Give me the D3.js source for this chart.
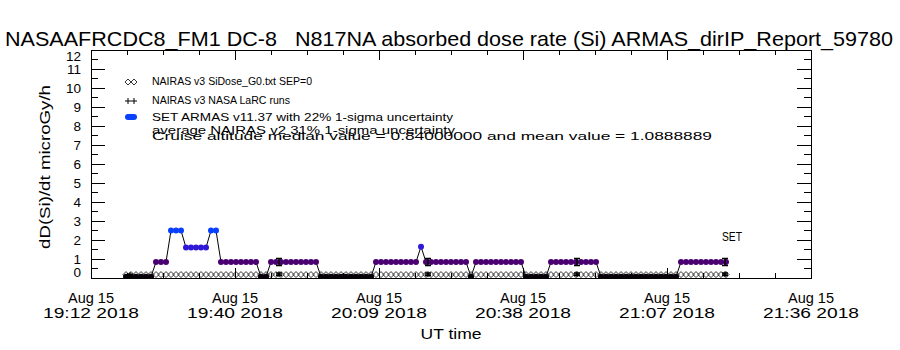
<!DOCTYPE html>
<html>
<head>
<meta charset="utf-8">
<script src="https://cdn.jsdelivr.net/npm/d3@7"></script>
<style>
  body { margin: 0; background: #fff; }
  svg text { font-family: "Liberation Sans", Arial, sans-serif; fill: #000; white-space: pre; }
</style>
</head>
<body>
<svg id="chart" width="900" height="350"></svg>
<script>
// ARMAS dose rate, one value per minute starting 19:19 UT
var armasStart = '2018-08-15T19:19:00Z';
var armasVals = [
  0.07, 0.07, 0.07, 0.07, 0.07, 0.07,
  0.84, 0.84, 0.84,
  2.5, 2.5, 2.5,
  1.6, 1.6, 1.6, 1.6, 1.6,
  2.5, 2.5,
  0.84, 0.84, 0.84, 0.84, 0.84, 0.84, 0.84, 0.84,
  0.07, 0.07,
  0.84, 0.84, 0.84, 0.84, 0.84, 0.84, 0.84, 0.84, 0.84, 0.84,
  0.07, 0.07, 0.07, 0.07, 0.07, 0.07, 0.07, 0.07, 0.07, 0.07, 0.07,
  0.84, 0.84, 0.84, 0.84, 0.84, 0.84, 0.84, 0.84, 0.84,
  1.65,
  0.84, 0.84, 0.84, 0.84, 0.84, 0.84, 0.84, 0.84, 0.84,
  0.07,
  0.84, 0.84, 0.84, 0.84, 0.84, 0.84, 0.84, 0.84, 0.84, 0.84,
  0.07, 0.07, 0.07, 0.07, 0.07,
  0.84, 0.84, 0.84, 0.84, 0.84, 0.84, 0.84, 0.84, 0.84, 0.84,
  0.07, 0.07, 0.07, 0.07, 0.07, 0.07, 0.07, 0.07, 0.07, 0.07, 0.07, 0.07, 0.07, 0.07, 0.07, 0.07,
  0.84, 0.84, 0.84, 0.84, 0.84, 0.84, 0.84, 0.84, 0.84, 0.84
];
// NAIRAS v3 SiDose_G0, same minutes
var nairasVals = [
  0.18, 0.18, 0.18, 0.18, 0.18, 0.18, 0.18, 0.18, 0.18, 0.18, 0.18,
  0.18, 0.18, 0.18, 0.18, 0.18, 0.18, 0.18, 0.18, 0.18, 0.18, 0.18,
  0.18, 0.18, 0.18, 0.18, 0.18, 0.18, 0.18, 0.18, 0.18, 0.18, 0.18,
  0.18, 0.18, 0.18, 0.18, 0.18, 0.18, 0.18, 0.18, 0.18, 0.18, 0.18,
  0.18, 0.18, 0.18, 0.18, 0.18, 0.18, 0.18, 0.18, 0.18, 0.18, 0.18,
  0.18, 0.18, 0.18, 0.18, 0.18, 0.18, 0.18, 0.18, 0.18, 0.18, 0.18,
  0.18, 0.18, 0.18, 0.18, 0.18, 0.18, 0.18, 0.18, 0.18, 0.18, 0.18,
  0.18, 0.18, 0.18, 0.18, 0.18, 0.18, 0.18, 0.18, 0.18, 0.18, 0.18,
  0.18, 0.18, 0.18, 0.18, 0.18, 0.18, 0.18, 0.18, 0.18, 0.18, 0.18,
  0.18, 0.18, 0.18, 0.18, 0.18, 0.18, 0.18, 0.18, 0.18, 0.18, 0.18,
  0.18, 0.18, 0.18, 0.18, 0.18, 0.18, 0.18, 0.18, 0.18, 0.18, 0.18
];
// NAIRAS v3 NASA LaRC runs
var larcTimes = ['2018-08-15T19:19:48Z', '2018-08-15T19:49:36Z', '2018-08-15T20:19:24Z', '2018-08-15T20:49:12Z', '2018-08-15T21:18:48Z'];
var larcVals = [0.15, 0.2, 0.2, 0.2, 0.2];
var larcArmas = [0.07, 0.84, 0.84, 0.84, 0.84];

var armasSigma = 0.22;
var nairasSigma = 0.31;

var xTicks = ['2018-08-15T19:12:00Z', '2018-08-15T19:40:48Z', '2018-08-15T20:09:36Z',
              '2018-08-15T20:38:24Z', '2018-08-15T21:07:12Z', '2018-08-15T21:36:00Z'];
var yTicks = [0, 1, 2, 3, 4, 5, 6, 7, 8, 9, 10, 11, 12];

var titleText = 'NASAAFRCDC8_FM1 DC-8   N817NA absorbed dose rate (Si) ARMAS_dirIP_Report_59780';
var legendLines = [
  'NAIRAS v3 SiDose_G0.txt SEP=0',
  'NAIRAS v3 NASA LaRC runs',
  'SET ARMAS v11.37 with 22% 1-sigma uncertainty',
  'average NAIRAS v2 31% 1-sigma uncertainty',
  'Cruise altitude median value = 0.84000000 and mean value = 1.0888889'
];

var svg = d3.select('#chart');
var plot = { l: 91, r: 811, t: 50, b: 278 };

var xScale = d3.scaleUtc()
  .domain([new Date(xTicks[0]), new Date(xTicks[xTicks.length - 1])])
  .range([plot.l, plot.r]);
var yScale = d3.scaleLinear().domain([0, 12]).range([plot.b, plot.t]);
var colorScale = d3.scaleLinear()
  .domain([0, 0.84, 1.6, 2.5])
  .range(['#000000', '#4a0070', '#3018d8', '#0a40ff']);

var t0 = new Date(armasStart).getTime();
var armas = armasVals.map((v, i) => ({ t: new Date(t0 + i * 60000), v: v }));
var nairas = nairasVals.map((v, i) => ({ t: new Date(t0 + i * 60000), v: v }));
var larc = larcTimes.map((t, i) => ({ t: new Date(t), v: larcVals[i], a: larcArmas[i] }));

svg.append('clipPath').attr('id', 'clip')
  .append('rect')
  .attr('x', plot.l).attr('y', plot.t)
  .attr('width', plot.r - plot.l).attr('height', plot.b - plot.t);

// title
svg.append('text')
  .attr('x', 5).attr('y', 46)
  .attr('textLength', 888).attr('lengthAdjust', 'spacingAndGlyphs')
  .style('font-size', '21px')
  .text(titleText);

// frame
svg.append('rect')
  .attr('x', plot.l).attr('y', plot.t)
  .attr('width', plot.r - plot.l).attr('height', plot.b - plot.t)
  .attr('fill', 'none').attr('stroke', '#000').attr('stroke-width', 1)
  .attr('shape-rendering', 'crispEdges');

// y ticks, both sides
var axisG = svg.append('g').attr('shape-rendering', 'crispEdges');
var yMinor = yTicks.slice(1).map(v => v - 0.5);
yTicks.forEach(function (v) {
  var y = yScale(v);
  axisG.append('line').attr('x1', plot.l).attr('x2', plot.l + 14).attr('y1', y).attr('y2', y).attr('stroke', '#000');
  axisG.append('line').attr('x1', plot.r).attr('x2', plot.r - 14).attr('y1', y).attr('y2', y).attr('stroke', '#000');
});
yMinor.forEach(function (v) {
  var y = yScale(v);
  axisG.append('line').attr('x1', plot.l).attr('x2', plot.l + 7).attr('y1', y).attr('y2', y).attr('stroke', '#000');
  axisG.append('line').attr('x1', plot.r).attr('x2', plot.r - 7).attr('y1', y).attr('y2', y).attr('stroke', '#000');
});
svg.selectAll('.ylab')
  .data(yTicks)
  .enter().append('text')
  .attr('class', 'ylab')
  .attr('x', 81)
  .attr('y', d => Math.min(Math.max(yScale(d), plot.t + 6), plot.b - 6) + 5)
  .attr('text-anchor', 'end')
  .style('font-size', '13.5px')
  .text(d => d);

// x ticks, bottom and top
var xt = xTicks.map(d => new Date(d));
xt.forEach(function (d, i) {
  var x = xScale(d);
  axisG.append('line').attr('x1', x).attr('x2', x).attr('y1', plot.b).attr('y2', plot.b - 10).attr('stroke', '#000');
  axisG.append('line').attr('x1', x).attr('x2', x).attr('y1', plot.t).attr('y2', plot.t + 10).attr('stroke', '#000');
  if (i < xt.length - 1) {
    var step = (xt[i + 1] - d) / 4;
    for (var k = 1; k < 4; k++) {
      var xm = xScale(new Date(d.getTime() + k * step));
      axisG.append('line').attr('x1', xm).attr('x2', xm).attr('y1', plot.b).attr('y2', plot.b - 5).attr('stroke', '#000');
      axisG.append('line').attr('x1', xm).attr('x2', xm).attr('y1', plot.t).attr('y2', plot.t + 5).attr('stroke', '#000');
    }
  }
});
var fmtDay = d3.utcFormat('%b %d');
var fmtTime = d3.utcFormat('%H:%M %Y');
var xLabG = svg.selectAll('.xlab')
  .data(xt)
  .enter().append('g')
  .attr('class', 'xlab')
  .attr('transform', d => 'translate(' + [xScale(d), 0] + ')');
xLabG.append('text').attr('y', 303).attr('text-anchor', 'middle')
  .attr('textLength', 46).attr('lengthAdjust', 'spacingAndGlyphs')
  .style('font-size', '14px').text(d => fmtDay(d));
xLabG.append('text').attr('y', 318).attr('text-anchor', 'middle')
  .attr('textLength', 96).attr('lengthAdjust', 'spacingAndGlyphs')
  .style('font-size', '14px').text(d => fmtTime(d));

svg.append('text')
  .attr('x', 451).attr('y', 339).attr('text-anchor', 'middle')
  .attr('textLength', 61).attr('lengthAdjust', 'spacingAndGlyphs')
  .style('font-size', '14px').text('UT time');

svg.append('text')
  .attr('transform', 'translate(50,167) rotate(-90)')
  .attr('text-anchor', 'middle')
  .attr('textLength', 164).attr('lengthAdjust', 'spacingAndGlyphs')
  .style('font-size', '15px').text('dD(Si)/dt microGy/h');

// data
var dataG = svg.append('g').attr('clip-path', 'url(#clip)');

function diamond(g, x, y, s) {
  g.append('path')
    .attr('d', 'M' + (x - s) + ',' + y + 'L' + x + ',' + (y - s) + 'L' + (x + s) + ',' + y + 'L' + x + ',' + (y + s) + 'Z')
    .attr('fill', 'none').attr('stroke', '#000').attr('stroke-width', 0.8);
}
function plus(g, x, y, s) {
  g.append('path')
    .attr('d', 'M' + (x - s) + ',' + y + 'H' + (x + s) + 'M' + x + ',' + (y - s) + 'V' + (y + s))
    .attr('stroke', '#000').attr('stroke-width', 1);
}

var nairasG = dataG.append('g');
nairas.forEach(d => diamond(nairasG, xScale(d.t), yScale(d.v), 3));

var line = d3.line().x(d => xScale(d.t)).y(d => yScale(d.v));
dataG.append('path')
  .datum(armas)
  .attr('d', line)
  .attr('fill', 'none').attr('stroke', '#000').attr('stroke-width', 1);

dataG.selectAll('.armas')
  .data(armas)
  .enter().append('circle')
  .attr('class', 'armas')
  .attr('cx', d => xScale(d.t))
  .attr('cy', d => yScale(d.v))
  .attr('r', 3)
  .attr('fill', d => colorScale(d.v));

// error bars
var errG = dataG.append('g').attr('stroke', '#000').attr('stroke-width', 1.5).attr('fill', 'none');
larc.forEach(function (d) {
  var x = xScale(d.t);
  var lo = yScale(d.a * (1 - armasSigma)), hi = yScale(d.a * (1 + armasSigma));
  errG.append('path').attr('d', 'M' + (x - 3) + ',' + hi + 'H' + (x + 3) + 'M' + x + ',' + hi + 'V' + lo + 'M' + (x - 3) + ',' + lo + 'H' + (x + 3));
  var lo2 = yScale(d.v * (1 - nairasSigma)), hi2 = yScale(d.v * (1 + nairasSigma));
  errG.append('path').attr('d', 'M' + (x - 3) + ',' + hi2 + 'H' + (x + 3) + 'M' + x + ',' + hi2 + 'V' + lo2 + 'M' + (x - 3) + ',' + lo2 + 'H' + (x + 3));
  plus(dataG, x, yScale(d.v), 3);
});

svg.append('text')
  .attr('x', 722).attr('y', 241)
  .attr('textLength', 20).attr('lengthAdjust', 'spacingAndGlyphs')
  .style('font-size', '12px').text('SET');

// legend
var legG = svg.append('g');
diamond(legG, 128, 82, 3);
diamond(legG, 134, 82, 3);
plus(legG, 128, 101, 3);
plus(legG, 134, 101, 3);
legG.append('circle').attr('cx', 128).attr('cy', 117).attr('r', 3).attr('fill', '#0a40ff');
legG.append('circle').attr('cx', 134).attr('cy', 117).attr('r', 3).attr('fill', '#0a40ff');
legG.append('rect').attr('x', 128).attr('y', 114).attr('width', 6).attr('height', 6).attr('fill', '#0a40ff');

var legY = [85, 104, 121, 134, 140];
var legW = [160, 138, 301, 303, 560];
legendLines.forEach(function (s, i) {
  legG.append('text')
    .attr('x', 152).attr('y', legY[i])
    .attr('textLength', legW[i]).attr('lengthAdjust', 'spacingAndGlyphs')
    .style('font-size', '11.5px').text(s);
});
</script>
</body>
</html>
